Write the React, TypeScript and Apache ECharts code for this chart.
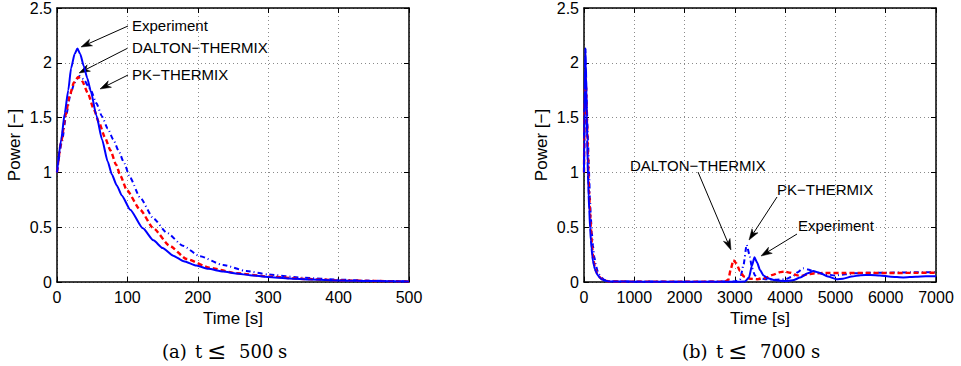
import React, { useEffect, useRef } from "react";
import * as echarts from "echarts";

// Measured reactor power (normalised) and two code predictions
const expTime = [0, 6, 11, 16, 20, 25, 29, 33, 38, 43, 48, 56, 64, 72, 78, 85, 92, 104, 122, 137, 150, 165, 180, 198, 215, 236, 255, 274, 300, 330, 360, 400, 450, 500, 700, 1000, 2000, 3000, 3200, 3280, 3340, 3390, 3440, 3500, 3570, 3650, 3800, 4000, 4150, 4300, 4450, 4560, 4680, 4850, 5025, 5150, 5323, 5500, 5700, 5886, 6100, 6350, 6600, 6800, 7000];
const expPower = [1.0, 1.3, 1.54, 1.75, 1.95, 2.08, 2.13, 2.08, 1.97, 1.86, 1.74, 1.52, 1.3, 1.1, 0.98, 0.88, 0.79, 0.66, 0.49, 0.38, 0.31, 0.24, 0.19, 0.15, 0.12, 0.095, 0.077, 0.062, 0.046, 0.033, 0.023, 0.014, 0.008, 0.005, 0.004, 0.003, 0.002, 0.002, 0.004, 0.04, 0.15, 0.225, 0.18, 0.11, 0.06, 0.035, 0.015, 0.01, 0.015, 0.04, 0.08, 0.1, 0.085, 0.05, 0.025, 0.03, 0.05, 0.062, 0.065, 0.06, 0.048, 0.042, 0.048, 0.052, 0.052];

const daltonTime = [0, 6, 12, 18, 24, 30, 36, 44, 52, 60, 68, 76, 84, 90, 99, 118, 137, 160, 184, 217, 255, 300, 350, 400, 450, 500, 700, 1000, 2000, 2800, 2870, 2920, 2970, 3030, 3100, 3180, 3300, 3450, 3600, 3750, 3900, 3980, 4100, 4250, 4320, 4450, 4600, 4800, 5200, 5600, 6000, 6500, 7000];
const daltonPower = [1.0, 1.28, 1.52, 1.7, 1.82, 1.87, 1.83, 1.72, 1.58, 1.45, 1.32, 1.2, 1.07, 0.97, 0.84, 0.66, 0.49, 0.33, 0.21, 0.13, 0.08, 0.05, 0.028, 0.015, 0.009, 0.005, 0.004, 0.003, 0.002, 0.003, 0.02, 0.12, 0.2, 0.17, 0.1, 0.05, 0.03, 0.025, 0.035, 0.065, 0.09, 0.095, 0.085, 0.06, 0.055, 0.07, 0.08, 0.082, 0.082, 0.083, 0.082, 0.083, 0.085];

const pkTime = [0, 7, 13, 19, 25, 32, 38, 44, 48, 56, 64, 72, 80, 88, 95, 104, 118, 137, 156, 179, 203, 236, 269, 300, 350, 400, 450, 500, 700, 1000, 2000, 3000, 3100, 3170, 3235, 3290, 3340, 3400, 3480, 3600, 3800, 4000, 4150, 4250, 4355, 4450, 4600, 4800, 5000, 5200, 5400, 5700, 6000, 6500, 7000];
const pkPower = [1.0, 1.28, 1.52, 1.71, 1.82, 1.88, 1.85, 1.79, 1.75, 1.63, 1.51, 1.4, 1.3, 1.19, 1.09, 0.95, 0.77, 0.58, 0.45, 0.33, 0.235, 0.155, 0.1, 0.068, 0.038, 0.021, 0.011, 0.006, 0.005, 0.004, 0.003, 0.004, 0.02, 0.15, 0.34, 0.25, 0.13, 0.06, 0.035, 0.025, 0.02, 0.025, 0.05, 0.09, 0.125, 0.115, 0.09, 0.07, 0.06, 0.07, 0.08, 0.085, 0.085, 0.088, 0.09];

const powerTicks = { min: 0, max: 2.5, interval: 0.5 };
const shortRange = { min: 0, max: 500, interval: 100 };
const longRange = { min: 0, max: 7000, interval: 1000 };

const SANS = "'Liberation Sans', Arial, Helvetica, sans-serif";
const SERIF = "'DejaVu Serif', serif";
const BLUE = "#0000ff";
const RED = "#ff0000";

function pairs(t: number[], v: number[], tMax: number) {
  const out: number[][] = [];
  t.forEach((x, i) => {
    if (x <= tMax) out.push([x, v[i]]);
  });
  return out;
}

// Annotation arrow: a thin shaft plus a filled, notched head at (x2, y2)
function arrow(x1: number, y1: number, x2: number, y2: number) {
  const dx = x2 - x1;
  const dy = y2 - y1;
  const L = Math.hypot(dx, dy);
  const ux = dx / L;
  const uy = dy / L;
  const px = -uy;
  const py = ux;
  const len = 11;
  const half = 3.6;
  const bx = x2 - ux * len;
  const by = y2 - uy * len;
  const nx = x2 - ux * len * 0.72;
  const ny = y2 - uy * len * 0.72;
  return [
    {
      type: "line",
      shape: { x1, y1, x2: nx, y2: ny },
      style: { stroke: "#000", lineWidth: 1 },
    },
    {
      type: "polygon",
      shape: {
        points: [
          [x2, y2],
          [bx + px * half, by + py * half],
          [nx, ny],
          [bx - px * half, by - py * half],
        ],
      },
      style: { fill: "#000", stroke: "#000", lineWidth: 0.5 },
    },
  ];
}

function label(text: string, x: number, y: number) {
  return {
    type: "text",
    x,
    y,
    style: {
      text,
      fontFamily: SANS,
      fontSize: 15,
      fill: "#000",
      textAlign: "left",
      textVerticalAlign: "middle",
    },
  };
}

function caption(parts: [string, number, number][], y: number) {
  return parts.map(([text, x, size]) => ({
    type: "text",
    x,
    y,
    style: {
      text,
      fontFamily: SERIF,
      fontSize: size,
      fill: "#000",
      textAlign: "left",
      textVerticalAlign: "middle",
    },
  }));
}

const plainNumber = (v: number) => String(v);

function bottomAxis(gridIndex: number, range: any) {
  return {
    gridIndex,
    type: "value",
    position: "bottom",
    ...range,
    name: "Time [s]",
    nameLocation: "middle",
    nameGap: 23,
    nameTextStyle: { fontFamily: SANS, fontSize: 17, color: "#000" },
    axisLine: { onZero: false, lineStyle: { color: "#000", width: 1.5 } },
    axisTick: { inside: true, length: 5, lineStyle: { color: "#000" } },
    axisLabel: { fontFamily: SANS, fontSize: 16, color: "#000", margin: 7, formatter: plainNumber },
    splitLine: { show: true, lineStyle: { color: "#8a8a8a", type: [1, 3], width: 1 } },
  };
}

function topAxis(gridIndex: number, range: any) {
  return {
    gridIndex,
    type: "value",
    position: "top",
    ...range,
    axisLine: { onZero: false, lineStyle: { color: "#000", width: 1.5 } },
    axisTick: { inside: true, length: 5, lineStyle: { color: "#000" } },
    axisLabel: { show: false },
    splitLine: { show: false },
  };
}

function leftAxis(gridIndex: number) {
  return {
    gridIndex,
    type: "value",
    position: "left",
    ...powerTicks,
    name: "Power [\u2212]",
    nameLocation: "middle",
    nameGap: 34,
    nameTextStyle: { fontFamily: SANS, fontSize: 17, color: "#000" },
    axisLine: { show: true, onZero: false, lineStyle: { color: "#000", width: 1.5 } },
    axisTick: { show: true, inside: true, length: 5, lineStyle: { color: "#000" } },
    axisLabel: { fontFamily: SANS, fontSize: 16, color: "#000", margin: 5, formatter: plainNumber },
    splitLine: { show: true, lineStyle: { color: "#8a8a8a", type: [1, 3], width: 1 } },
  };
}

function rightAxis(gridIndex: number) {
  return {
    gridIndex,
    type: "value",
    position: "right",
    ...powerTicks,
    axisLine: { show: true, onZero: false, lineStyle: { color: "#000", width: 1.5 } },
    axisTick: { show: true, inside: true, length: 5, lineStyle: { color: "#000" } },
    axisLabel: { show: false },
    splitLine: { show: false },
  };
}

function curves(xAxisIndex: number, yAxisIndex: number, tMax: number) {
  const base = {
    type: "line",
    xAxisIndex,
    yAxisIndex,
    showSymbol: false,
    smooth: 0.2,
    smoothMonotone: "x",
    clip: true,
  };
  return [
    {
      ...base,
      name: "PK\u2212THERMIX",
      data: pairs(pkTime, pkPower, tMax),
      lineStyle: { color: BLUE, width: 2, type: [5, 3, 1, 3] },
      z: 3,
    },
    {
      ...base,
      name: "DALTON\u2212THERMIX",
      data: pairs(daltonTime, daltonPower, tMax),
      lineStyle: { color: RED, width: 2.4, type: [5, 3] },
      z: 4,
    },
    {
      ...base,
      name: "Experiment",
      data: pairs(expTime, expPower, tMax),
      lineStyle: { color: BLUE, width: 2 },
      z: 5,
    },
  ];
}

export default function App() {
  const ref = useRef<HTMLDivElement>(null);

  useEffect(() => {
    if (!ref.current) return;
    const chart = echarts.init(ref.current, undefined, { renderer: "svg" });
    chart.setOption({
      animation: false,
      backgroundColor: "#ffffff",
      grid: [
        { left: 57, top: 8, width: 352, height: 274 },
        { left: 584, top: 8, width: 352, height: 274 },
      ],
      xAxis: [
        bottomAxis(0, shortRange),
        topAxis(0, shortRange),
        bottomAxis(1, longRange),
        topAxis(1, longRange),
      ],
      yAxis: [leftAxis(0), rightAxis(0), leftAxis(1), rightAxis(1)],
      series: [...curves(0, 0, 500), ...curves(2, 2, 7000)],
      graphic: [
        // panel (a) annotations
        label("Experiment", 132, 25),
        ...arrow(128, 26, 81, 47),
        label("DALTON\u2212THERMIX", 132, 47),
        ...arrow(128, 48, 79, 73),
        label("PK\u2212THERMIX", 132, 74),
        ...arrow(128, 75, 100, 89),
        // panel (b) annotations
        label("DALTON\u2212THERMIX", 630, 165),
        ...arrow(698, 172, 731, 250),
        label("PK\u2212THERMIX", 777, 189),
        ...arrow(777, 197, 749, 240),
        label("Experiment", 798, 225),
        ...arrow(797, 234, 761, 256),
        // sub-figure captions
        ...caption(
          [["(a)", 162, 18], ["t", 195, 18], ["\u2264", 207, 23], ["500", 239, 18], ["s", 278, 18]],
          351
        ),
        ...caption(
          [["(b)", 682, 18], ["t", 716, 18], ["\u2264", 728, 23], ["7000", 760, 18], ["s", 811, 18]],
          351
        ),
      ],
    });
    return () => chart.dispose();
  }, []);

  return (
    <div
      ref={ref}
      style={{ position: "absolute", left: 0, top: 0, width: 961, height: 366 }}
    />
  );
}
